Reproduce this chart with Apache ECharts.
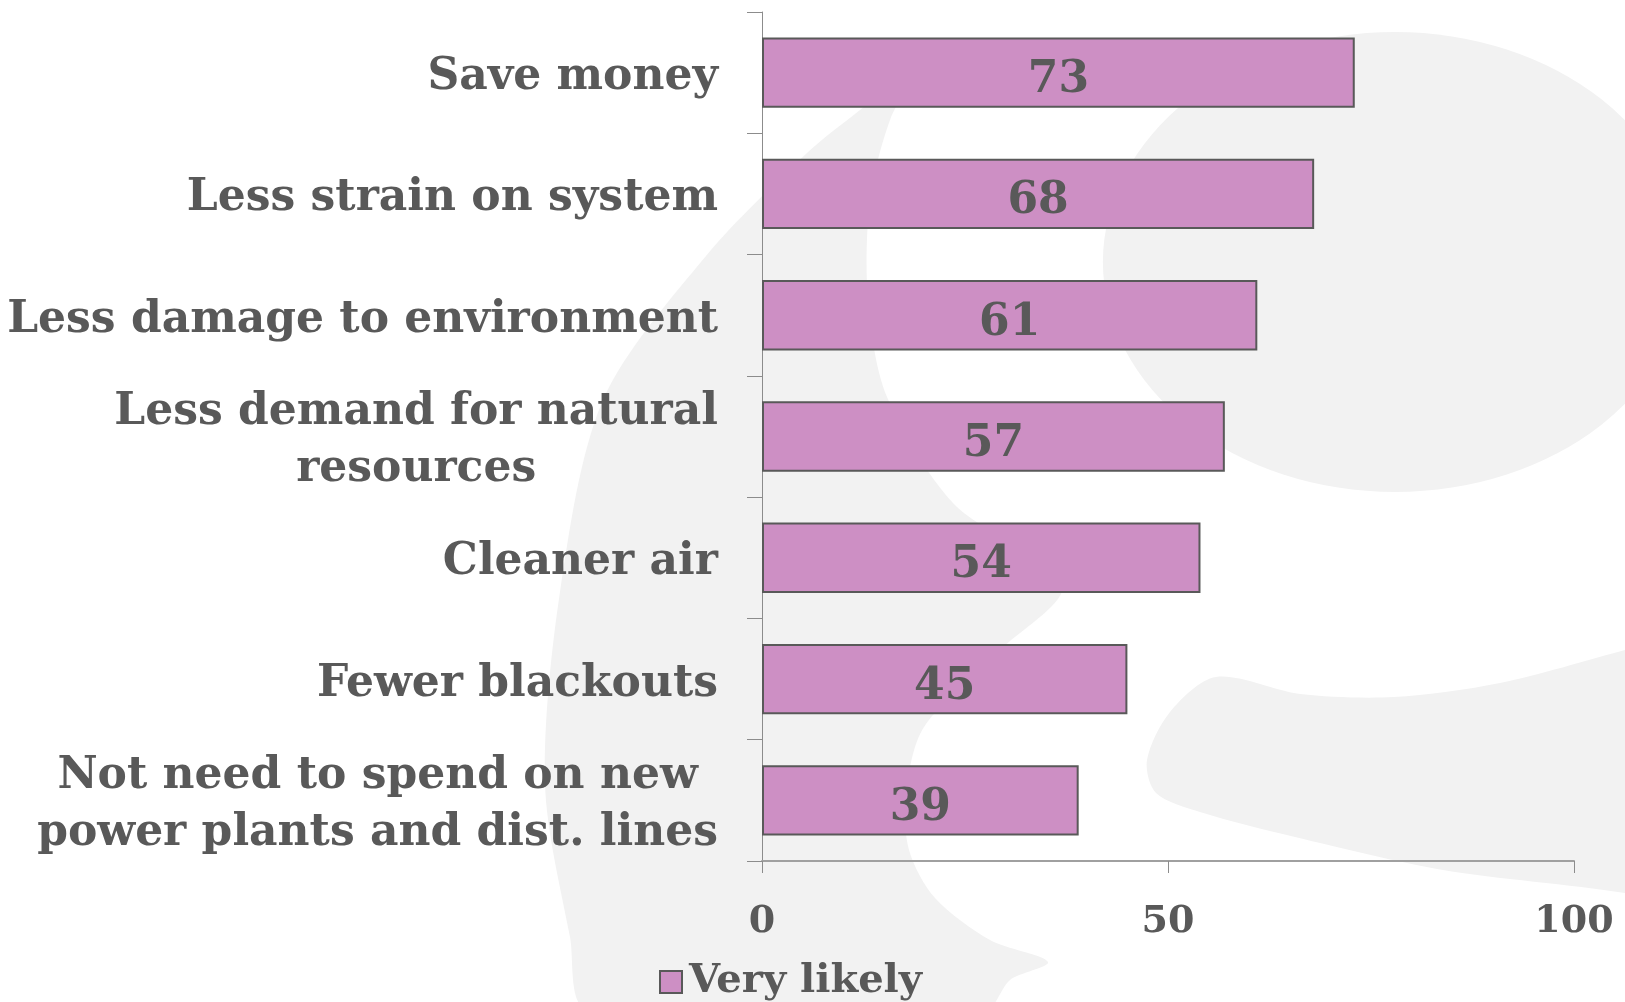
<!DOCTYPE html>
<html>
<head>
<meta charset="utf-8">
<title>Very likely benefits</title>
<script src="https://cdn.jsdelivr.net/npm/echarts@6/dist/echarts.min.js"></script>
<style>
  html, body { margin: 0; padding: 0; background: #ffffff; }
  #chart { width: 1625px; height: 1002px; }
</style>
</head>
<body>
<div id="chart"></div>
<script>
// Benefits rated "very likely" (percent of respondents)
const categories = [
  'Save money',
  'Less strain on system',
  'Less damage to environment',
  'Less demand for natural\nresources',
  'Cleaner air',
  'Fewer blackouts',
  'Not need to spend on new\npower plants and dist. lines'
];
const veryLikely = [73, 68, 61, 57, 54, 45, 39];
const seriesName = 'Very likely';
const xTicks = { min: 0, max: 100, interval: 50 };

const TEXT = '#595959';
const FONT = '"DejaVu Serif", "Liberation Serif", serif';
const WATERMARK = '#f2f2f2';

const chart = echarts.init(document.getElementById('chart'), null, { renderer: 'canvas' });

chart.setOption({
  backgroundColor: '#ffffff',
  animation: false,
  // faint logo shapes behind the plot
  graphic: {
    elements: [
      {
        type: 'circle', silent: true, z: -100,
        x: 1395, y: 262, scaleX: 1.27, scaleY: 1,
        shape: { cx: 0, cy: 0, r: 230 },
        style: { fill: WATERMARK }
      },
      {
        type: 'polygon', silent: true, z: -100,
        shape: {
          smooth: 0.3,
          points: [
            [920, 62], [860, 110], [807, 153], [706, 256], [603, 400], [560, 592],
            [545, 784], [570, 937], [588, 1010], [985, 1010], [1010, 980], [1048, 962],
            [990, 940], [935, 898], [909, 850], [906, 793], [924, 727], [1000, 650],
            [1062, 585], [953, 503], [887, 397], [868, 300], [870, 200], [890, 120]
          ]
        },
        style: { fill: WATERMARK }
      },
      {
        type: 'polygon', silent: true, z: -100,
        shape: {
          smooth: 0.3,
          points: [
            [1147, 760], [1170, 712], [1216, 677], [1300, 694], [1394, 697],
            [1500, 683], [1625, 650], [1660, 640], [1660, 905], [1625, 893],
            [1443, 870], [1295, 837], [1200, 812], [1156, 793]
          ]
        },
        style: { fill: WATERMARK }
      }
    ]
  },
  grid: { left: 762, right: 51, top: 12, bottom: 141, containLabel: false },
  legend: {
    data: [seriesName],
    left: 654,
    top: 957,
    icon: 'rect',
    itemWidth: 22,
    itemHeight: 22,
    itemStyle: { color: '#cd8fc4', borderColor: TEXT, borderWidth: 2 },
    textStyle: { color: TEXT, fontFamily: FONT, fontWeight: 'bold', fontSize: 40, padding: [0, 0, 0, 2] }
  },
  xAxis: {
    type: 'value',
    min: xTicks.min,
    max: xTicks.max,
    interval: xTicks.interval,
    axisLine: { show: true, lineStyle: { color: '#a0a0a0', width: 2 } },
    axisTick: { show: true, length: 12, lineStyle: { color: '#8c8c8c', width: 1 } },
    splitLine: { show: false },
    axisLabel: {
      margin: 42,
      color: TEXT,
      fontFamily: FONT,
      fontWeight: 'bold',
      fontSize: 38
    }
  },
  yAxis: {
    type: 'category',
    inverse: true,
    data: categories,
    axisLine: { show: true, lineStyle: { color: '#8c8c8c', width: 1 } },
    axisTick: { show: true, length: 15, lineStyle: { color: '#8c8c8c', width: 1 } },
    axisLabel: {
      margin: 44,
      align: 'right',
      formatter: function (value) {
        return value.split('\n').map(function (line) { return '{c|' + line + '}'; }).join('\n');
      },
      rich: {
        c: {
          align: 'center',
          color: TEXT,
          fontFamily: FONT,
          fontWeight: 'bold',
          fontSize: 44,
          lineHeight: 57,
          padding: [10, 0, 0, 0]
        }
      }
    }
  },
  series: [
    {
      name: seriesName,
      type: 'bar',
      data: veryLikely,
      barWidth: '58%',
      itemStyle: { color: '#cd8fc4', borderColor: TEXT, borderWidth: 2 },
      label: {
        show: true,
        position: 'inside',
        offset: [0, 8],
        color: TEXT,
        fontFamily: FONT,
        fontWeight: 'bold',
        fontSize: 44
      }
    }
  ]
});
</script>
</body>
</html>
